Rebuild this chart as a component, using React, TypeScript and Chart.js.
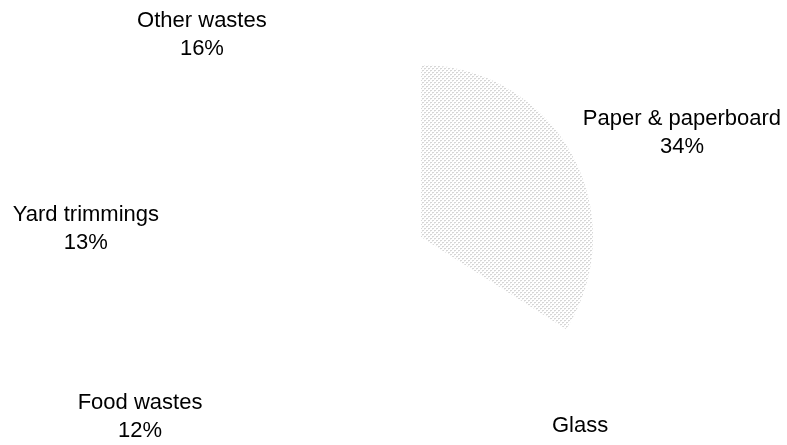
import React, { useEffect, useRef } from "react";
import { Chart, registerables } from "chart.js";

Chart.register(...registerables);

// ---- data ----
const categories = [
  "Paper & paperboard",
  "Glass",
  "Metals",
  "Plastics",
  "Food wastes",
  "Yard trimmings",
  "Other wastes",
];
const shares = [34, 5, 8, 12, 12, 13, 16];

// ---- label placement (relative to each slice's mid angle) ----
const labelAngleNudgeDeg = [6.9, 10.4, 0, 0, 3.5, -7.5, -18.4];
const labelDistanceFactor = [1.635, 1.495, 1.6, 1.6, 1.937, 1.949, 1.736];
const patternedSlices = [true, false, false, false, false, false, false];

function makePattern(): CanvasPattern | string {
  const tile = document.createElement("canvas");
  tile.width = 4;
  tile.height = 4;
  const c = tile.getContext("2d");
  if (!c) return "#f0f0f0";
  c.fillStyle = "#ffffff";
  c.fillRect(0, 0, 4, 4);
  c.fillStyle = "#d6d6d6";
  c.fillRect(0, 0, 2, 1);
  c.fillRect(2, 2, 2, 1);
  c.fillStyle = "#ececec";
  c.fillRect(0, 1, 1, 1);
  c.fillRect(2, 3, 1, 1);
  const p = c.createPattern(tile, "repeat");
  return p || "#f0f0f0";
}

const labelPlugin = {
  id: "sliceLabels",
  afterDatasetsDraw(chart: any) {
    const ctx = chart.ctx;
    const meta = chart.getDatasetMeta(0);
    ctx.save();
    ctx.fillStyle = "#000000";
    ctx.font = '22px "Liberation Sans", Arial, sans-serif';
    ctx.textAlign = "center";
    ctx.textBaseline = "middle";
    meta.data.forEach((arc: any, i: number) => {
      const p = arc.getProps(["x", "y", "startAngle", "endAngle", "outerRadius"], true);
      const mid = (p.startAngle + p.endAngle) / 2 + (labelAngleNudgeDeg[i] * Math.PI) / 180;
      const d = p.outerRadius * labelDistanceFactor[i];
      const lx = p.x + Math.cos(mid) * d;
      const ly = p.y + Math.sin(mid) * d;
      ctx.fillText(categories[i], lx, ly - 13);
      ctx.fillText(`${shares[i]}%`, lx, ly + 15);
    });
    ctx.restore();
  },
};

export default function App() {
  const ref = useRef<HTMLCanvasElement | null>(null);

  useEffect(() => {
    if (!ref.current) return;
    const pattern = makePattern();
    const chart = new Chart(ref.current, {
      type: "pie",
      data: {
        labels: categories,
        datasets: [
          {
            data: shares,
            backgroundColor: patternedSlices.map((on) => (on ? pattern : "rgba(255,255,255,0)")) as any,
            borderWidth: 0,
            offset: 0,
            hoverOffset: 0,
          } as any,
        ],
      },
      options: {
        responsive: false,
        animation: false,
        layout: { padding: { left: 249, right: 194, top: 65, bottom: 36 } },
        plugins: {
          legend: { display: false },
          tooltip: { enabled: false },
        },
        events: [],
      },
      plugins: [labelPlugin],
    });
    return () => chart.destroy();
  }, []);

  return (
    <div style={{ position: "absolute", left: 0, top: 0, width: 787, height: 445, background: "#ffffff" }}>
      <canvas ref={ref} width={787} height={445} style={{ display: "block", width: 787, height: 445 }} />
    </div>
  );
}
